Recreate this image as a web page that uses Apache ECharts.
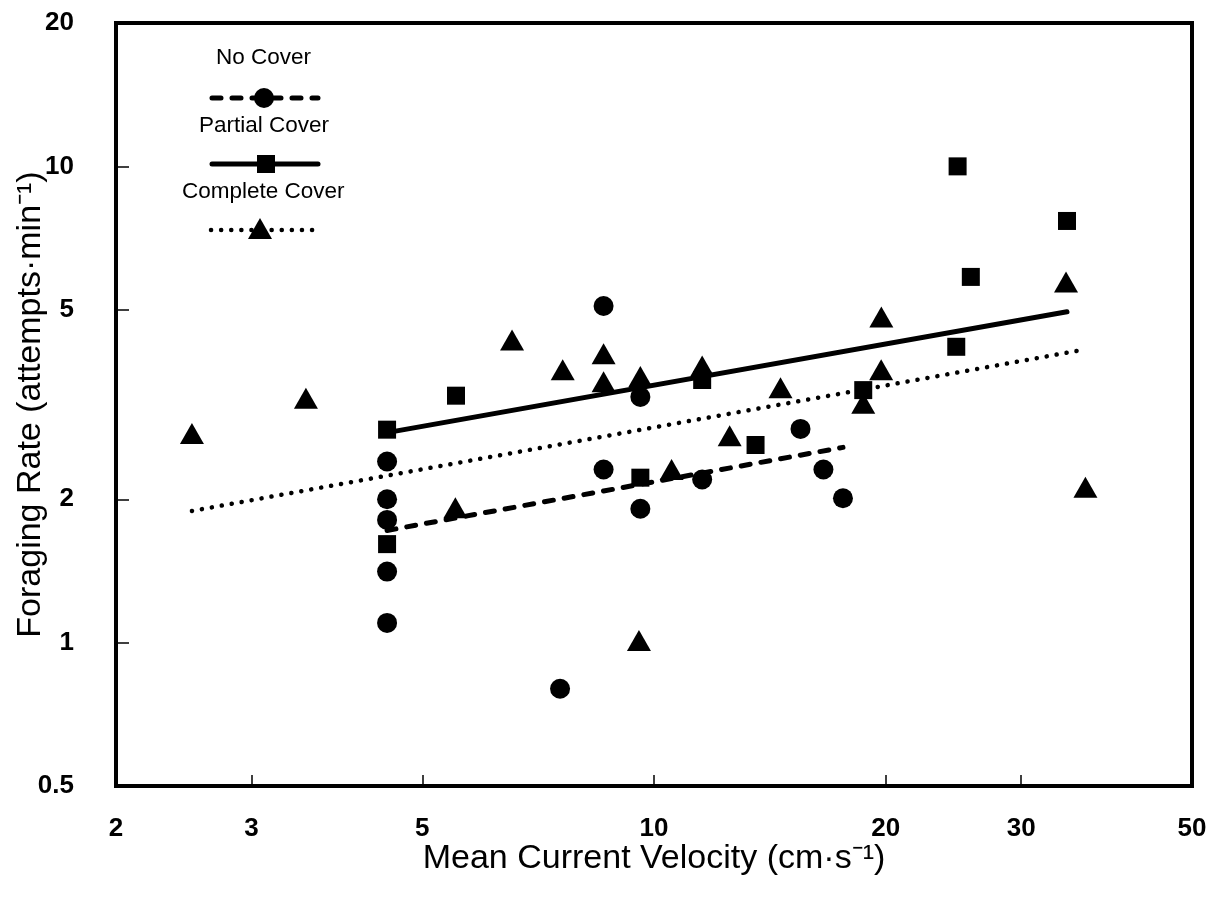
<!DOCTYPE html>
<html>
<head>
    <meta charset="utf-8">
    <style>
        html, body {
            width: 100%;
            height: 100%;
            margin: 0;
            background: #fff;
        }

        #chart-panel {
            width: 1230px;
            height: 905px;
        }
    </style>
    <script src="https://cdn.jsdelivr.net/npm/echarts@6/dist/echarts.min.js"></script>
</head>
<body>
<div id="chart-panel"></div>
<script type="text/javascript">

  // values (velocity cm/s, attempts/min)
  var noCoverX = [4.5, 4.5, 4.5, 4.5, 4.5, 7.55, 8.6, 8.6, 9.6, 9.6, 11.55, 15.5, 16.6, 17.6];
  var noCoverY = [2.4, 2.0, 1.81, 1.41, 1.1, 0.8, 5.09, 2.31, 3.28, 1.91, 2.2, 2.81, 2.31, 2.01];

  var partialX = [4.5, 4.5, 5.53, 9.6, 11.55, 13.55, 18.7, 24.8, 24.7, 25.8, 34.4];
  var partialY = [2.8, 1.61, 3.3, 2.22, 3.56, 2.6, 3.39, 10.0, 4.18, 5.86, 7.68];

  var completeX = [2.51, 3.53, 5.52, 6.54, 7.61, 8.6, 8.6, 9.6, 9.56, 10.54, 11.55, 12.54, 14.6, 18.7, 19.73, 19.74, 34.3, 36.35];
  var completeY = [2.75, 3.26, 1.92, 4.32, 3.74, 4.04, 3.53, 3.62, 1.01, 2.31, 3.81, 2.72, 3.43, 3.18, 3.74, 4.83, 5.72, 2.12];

  // fitted regression lines, end points
  var noCoverFitX = [4.5, 17.6];
  var noCoverFitY = [1.72, 2.57];
  var partialFitX = [4.5, 34.4];
  var partialFitY = [2.76, 4.95];
  var completeFitX = [2.51, 35.8];
  var completeFitY = [1.89, 4.11];

  var xLabels = [2, 3, 5, 10, 20, 30, 50];
  var xTickVals = [3, 5, 10, 20, 30];
  var yLabels = [0.5, 1, 2, 5, 10, 20];
  var yTickVals = [1, 2, 5, 10];

  var lg = Math.log10;
  function pairs(xs, ys) {
    return xs.map(function (x, i) { return [lg(x), lg(ys[i])]; });
  }
  function unlog(v) {
    return String(+Math.pow(10, v).toPrecision(2));
  }

  var font = 'Liberation Sans, Arial, Helvetica, sans-serif';
  var black = '#000';

  var myChart = echarts.init(document.getElementById('chart-panel'));

  var option = {
    animation: false,
    backgroundColor: '#fff',
    grid: {
      left: 116,
      right: 38,
      top: 23,
      bottom: 119,
      outerBoundsMode: 'none',
      containLabel: false,
      show: true,
      borderColor: black,
      borderWidth: 4
    },
    xAxis: {
      type: 'value',
      min: lg(2),
      max: lg(50),
      axisLine: {show: false, onZero: false},
      axisTick: {
        show: true,
        inside: true,
        length: 11,
        customValues: xTickVals.map(lg),
        lineStyle: {color: black, width: 1.5}
      },
      axisLabel: {
        customValues: xLabels.map(lg),
        formatter: unlog,
        color: black,
        fontFamily: font,
        fontSize: 26,
        fontWeight: 'bold',
        margin: 30
      },
      splitLine: {show: false},
      name: 'Mean Current Velocity (cm\u00b7s\u207b\u00b9)',
      nameLocation: 'middle',
      nameMoveOverlap: false,
      nameGap: 56,
      nameTextStyle: {color: black, fontFamily: font, fontSize: 34}
    },
    yAxis: {
      type: 'value',
      min: lg(0.5),
      max: lg(20),
      axisLine: {show: false, onZero: false},
      axisTick: {
        show: true,
        inside: true,
        length: 13,
        customValues: yTickVals.map(lg),
        lineStyle: {color: black, width: 1.5}
      },
      axisLabel: {
        customValues: yLabels.map(lg),
        formatter: unlog,
        color: black,
        fontFamily: font,
        fontSize: 26,
        fontWeight: 'bold',
        margin: 42
      },
      splitLine: {show: false},
      name: 'Foraging Rate (attempts\u00b7min\u207b\u00b9)',
      nameLocation: 'middle',
      nameMoveOverlap: false,
      nameGap: 68,
      nameTextStyle: {color: black, fontFamily: font, fontSize: 34}
    },
    graphic: [
      {type: 'text', left: 216, top: 46, style: {text: 'No Cover', font: '22.5px ' + font, fill: black}},
      {type: 'line', shape: {x1: 212, y1: 98, x2: 318, y2: 98},
        style: {stroke: black, lineWidth: 5, lineDash: [9, 11], lineCap: 'round'}},
      {type: 'circle', shape: {cx: 264, cy: 98, r: 10}, style: {fill: black}},
      {type: 'text', left: 199, top: 114, style: {text: 'Partial Cover', font: '22.5px ' + font, fill: black}},
      {type: 'line', shape: {x1: 212, y1: 164, x2: 318, y2: 164},
        style: {stroke: black, lineWidth: 5, lineCap: 'round'}},
      {type: 'rect', shape: {x: 257, y: 155, width: 18, height: 18}, style: {fill: black}},
      {type: 'text', left: 182, top: 180, style: {text: 'Complete Cover', font: '22.5px ' + font, fill: black}},
      {type: 'line', shape: {x1: 211, y1: 230, x2: 318, y2: 230},
        style: {stroke: black, lineWidth: 4.5, lineDash: [0.1, 10], lineCap: 'round'}},
      {type: 'polygon', shape: {points: [[248, 239], [260, 218], [272, 239]]}, style: {fill: black}}
    ],
    series: [
      {
        name: 'No Cover fit',
        type: 'line',
        data: pairs(noCoverFitX, noCoverFitY),
        showSymbol: false,
        silent: true,
        z: 1,
        lineStyle: {color: black, width: 5, type: [9, 11], cap: 'round'}
      },
      {
        name: 'Partial Cover fit',
        type: 'line',
        data: pairs(partialFitX, partialFitY),
        showSymbol: false,
        silent: true,
        z: 1,
        lineStyle: {color: black, width: 5, cap: 'round'}
      },
      {
        name: 'Complete Cover fit',
        type: 'line',
        data: pairs(completeFitX, completeFitY),
        showSymbol: false,
        silent: true,
        z: 1,
        lineStyle: {color: black, width: 4.5, type: [0.1, 10], cap: 'round'}
      },
      {
        name: 'No Cover',
        type: 'scatter',
        data: pairs(noCoverX, noCoverY),
        symbol: 'circle',
        symbolSize: 20,
        z: 3,
        itemStyle: {color: black, opacity: 1}
      },
      {
        name: 'Partial Cover',
        type: 'scatter',
        data: pairs(partialX, partialY),
        symbol: 'rect',
        symbolSize: 18,
        z: 3,
        itemStyle: {color: black, opacity: 1}
      },
      {
        name: 'Complete Cover',
        type: 'scatter',
        data: pairs(completeX, completeY),
        symbol: 'triangle',
        symbolSize: [24, 21],
        z: 3,
        itemStyle: {color: black, opacity: 1}
      }
    ]
  };

  myChart.setOption(option);
</script>
</body>
</html>
